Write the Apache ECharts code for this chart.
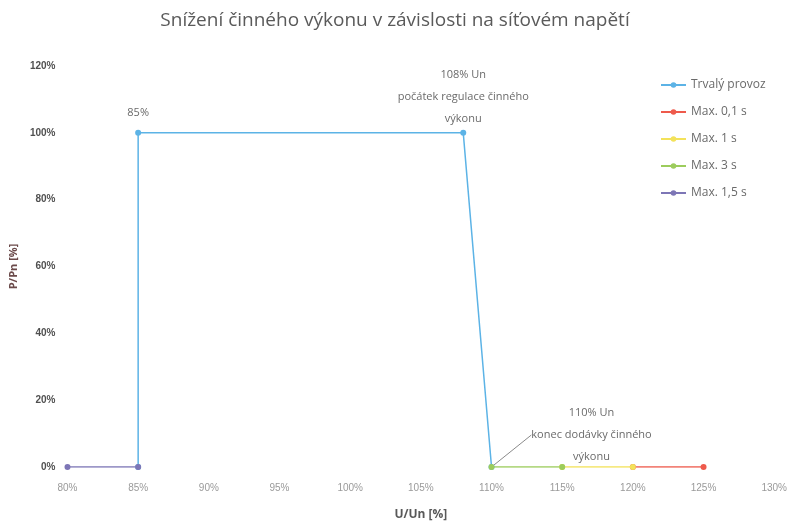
<!DOCTYPE html>
<html>
<head>
<meta charset="utf-8">
<script src="https://cdn.jsdelivr.net/npm/echarts@6/dist/echarts.min.js"></script>
<style>
html, body { margin: 0; padding: 0; background: #fff; }
#chart { width: 790px; height: 526px; }
</style>
</head>
<body>
<div id="chart"></div>
<script>
// data (U/Un %, P/Pn %)
var xTicks = [80, 85, 90, 95, 100, 105, 110, 115, 120, 125, 130];
var trvalyX = [85, 85, 108, 110];
var trvalyY = [0, 100, 100, 0];
var trvalyLabels = ['', '85%', '108% Un\npočátek regulace činného\nvýkonu', '110% Un\nkonec dodávky činného\nvýkonu'];
var max01X = [120, 125];
var max01Y = [0, 0];
var max1X = [115, 120];
var max1Y = [0, 0];
var max3X = [110, 115];
var max3Y = [0, 0];
var max15X = [80, 85];
var max15Y = [0, 0];

var seriesNames = ['Trvalý provoz', 'Max. 0,1 s', 'Max. 1 s', 'Max. 3 s', 'Max. 1,5 s'];
var colors = ['#5cb3e6', '#ee5a4c', '#f3e25a', '#9ccc5c', '#7d76b6'];

function pairs(xs, ys){
    let out = [];
    for(let i = 0; i < xs.length; i++){
        out.push([xs[i], ys[i]]);
    }
    return out;
}

function mkSeries(idx, xs, ys){
    return {
        name: seriesNames[idx],
        type: 'line',
        data: pairs(xs, ys),
        symbol: 'circle',
        symbolSize: 6,
        lineStyle: { width: 1.5, color: colors[idx] },
        itemStyle: { color: colors[idx] }
    };
}

var trvaly = mkSeries(0, trvalyX, trvalyY);
trvaly.data = trvaly.data.map(function(p, i){
    let item = { value: p, labelLine: { show: i == 3 } };
    if(i == 1){
        item.label = { distance: 6 };
    }
    return item;
});
trvaly.label = {
    show: true,
    position: 'top',
    distance: 0,
    color: '#6a6a6a',
    fontSize: 11,
    lineHeight: 22,
    fontFamily: 'Open Sans',
    formatter: function(p){ return trvalyLabels[p.dataIndex]; }
};
trvaly.labelLine = { show: false, lineStyle: { color: '#8a8a8a', width: 1 } };
trvaly.labelLayout = function(p){
    if(p.dataIndex == 3){
        return { dx: 100, dy: 4 };
    }
    return {};
};

var option = {
    color: colors,
    animation: false,
    title: {
        text: 'Snížení činného výkonu v závislosti na síťovém napětí',
        left: 'center',
        top: 6,
        textStyle: { color: '#5a5a5a', fontSize: 19, fontWeight: 'normal', fontFamily: 'Open Sans' }
    },
    legend: {
        orient: 'vertical',
        left: 655,
        top: 74,
        itemGap: 15,
        itemWidth: 25,
        itemHeight: 7,
        data: seriesNames,
        textStyle: { color: '#6a6a6a', fontSize: 12, fontFamily: 'Open Sans' }
    },
    grid: {
        left: 58,
        right: 15,
        top: 66,
        bottom: 56
    },
    xAxis: {
        type: 'value',
        min: 80,
        max: 130,
        interval: 5,
        name: 'U/Un [%]',
        nameLocation: 'middle',
        nameGap: 42,
        nameTextStyle: { color: '#595959', fontSize: 12, fontWeight: 'bold', fontFamily: 'Open Sans' },
        axisLine: { show: false },
        axisTick: { show: false },
        splitLine: { show: false },
        axisLabel: {
            color: '#9a9a9a',
            fontSize: 10,
            margin: 16,
            formatter: function(v){ return v + '%'; }
        }
    },
    yAxis: {
        type: 'value',
        min: 0,
        max: 120,
        interval: 20,
        name: 'P/Pn [%]',
        nameLocation: 'middle',
        nameGap: 36,
        nameTextStyle: { color: '#6b4a4a', fontSize: 11, fontWeight: 'bold', fontFamily: 'Open Sans' },
        axisLine: { show: false },
        axisTick: { show: false },
        splitLine: { show: false },
        axisLabel: {
            color: '#505050',
            fontSize: 10,
            fontWeight: 'bold',
            margin: 12,
            formatter: function(v){ return v + '%'; }
        }
    },
    series: [
        trvaly,
        mkSeries(1, max01X, max01Y),
        mkSeries(2, max1X, max1Y),
        mkSeries(3, max3X, max3Y),
        mkSeries(4, max15X, max15Y)
    ]
};

var myChart = echarts.init(document.getElementById('chart'));
myChart.setOption(option);
</script>
</body>
</html>
